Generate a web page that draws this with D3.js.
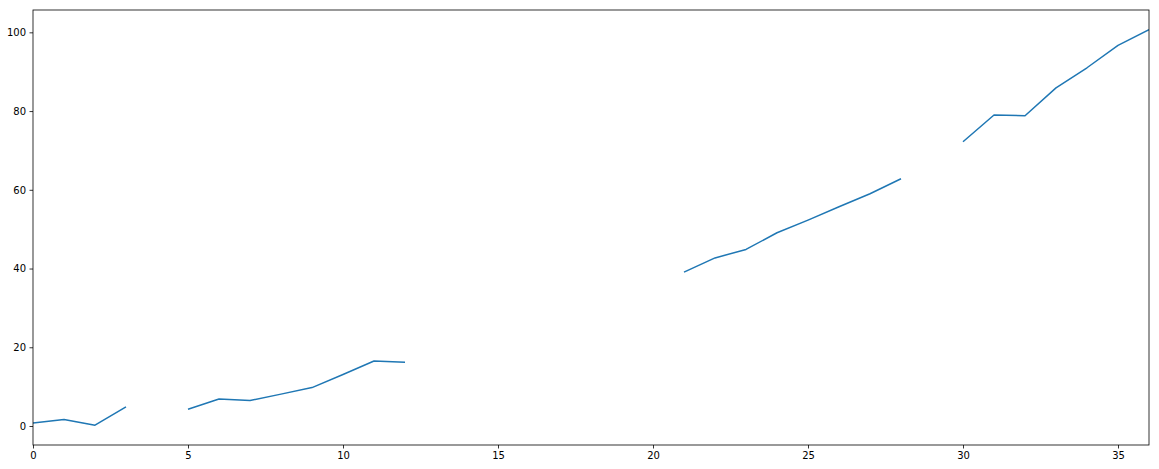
<!DOCTYPE html>
<html>
<head>
<meta charset="utf-8">
<script src="https://cdn.jsdelivr.net/npm/d3@7"></script>
<style>
  html, body { margin: 0; padding: 0; background: #fff; }
  svg { display: block; }
  text { font-family: "DejaVu Sans", sans-serif; font-size: 10px; fill: #000; }
</style>
</head>
<body>
<svg id="chart" width="1159" height="469"></svg>
<script>
// Data (null = missing value -> gap in line)
const xValues = [0,1,2,3,4,5,6,7,8,9,10,11,12,13,14,15,16,17,18,19,20,21,22,23,24,25,26,27,28,29,30,31,32,33,34,35,36];
const yValues = [0.76, 1.63, 0.2, 4.85, null, 4.25, 6.86, 6.46, 8.1, 9.76, 13.07, 16.5, 16.2,
                 null, null, null, null, null, null, null, null,
                 39.08, 42.7, 44.85, 49.1, 52.3, 55.7, 59.0, 62.8, null,
                 72.2, 79.0, 78.8, 85.9, 91.0, 96.7, 100.65];
const xTicks = [0, 5, 10, 15, 20, 25, 30, 35];
const yTicks = [0, 20, 40, 60, 80, 100];

const W = 1159, H = 469;
const margin = { left: 33, right: 10, top: 10, bottom: 24 };
const svg = d3.select("#chart");
const iw = W - margin.left - margin.right;
const ih = H - margin.top - margin.bottom;
const g = svg.append("g").attr("transform", `translate(${margin.left},${margin.top})`);

const pts = xValues.map((x, i) => ({ x, y: yValues[i] }));
const valid = pts.filter(d => d.y !== null);
const yMin = d3.min(valid, d => d.y), yMax = d3.max(valid, d => d.y);
const pad = (yMax - yMin) * 0.05;

const x = d3.scaleLinear().domain(d3.extent(xValues)).range([0, iw]);
const y = d3.scaleLinear().domain([yMin - pad, yMax + pad]).range([ih, 0]);

const line = d3.line()
  .defined(d => d.y !== null)
  .x(d => x(d.x))
  .y(d => y(d.y));

g.append("defs").append("clipPath").attr("id", "clip")
  .append("rect").attr("width", iw).attr("height", ih);

g.append("path")
  .datum(pts)
  .attr("clip-path", "url(#clip)")
  .attr("fill", "none")
  .attr("stroke", "#1f77b4")
  .attr("stroke-width", 1.5)
  .attr("stroke-linejoin", "round")
  .attr("stroke-linecap", "butt")
  .attr("d", line);

const xAxis = g.append("g").attr("transform", `translate(0,${ih})`)
  .call(d3.axisBottom(x).tickValues(xTicks).tickSize(3.5).tickPadding(3.5).tickFormat(d3.format("d")));
const yAxis = g.append("g")
  .call(d3.axisLeft(y).tickValues(yTicks).tickSize(3.5).tickPadding(3.5).tickFormat(d3.format("d")));

[xAxis, yAxis].forEach(a => {
  a.select(".domain").remove();
  a.selectAll(".tick line").attr("stroke", "#000").attr("stroke-width", 0.8);
  a.selectAll(".tick text").attr("font-family", "DejaVu Sans").attr("font-size", 10).attr("fill", "#000");
});

// Spines
g.append("rect")
  .attr("x", 0).attr("y", 0).attr("width", iw).attr("height", ih)
  .attr("fill", "none").attr("stroke", "#000").attr("stroke-width", 0.8);
</script>
</body>
</html>
